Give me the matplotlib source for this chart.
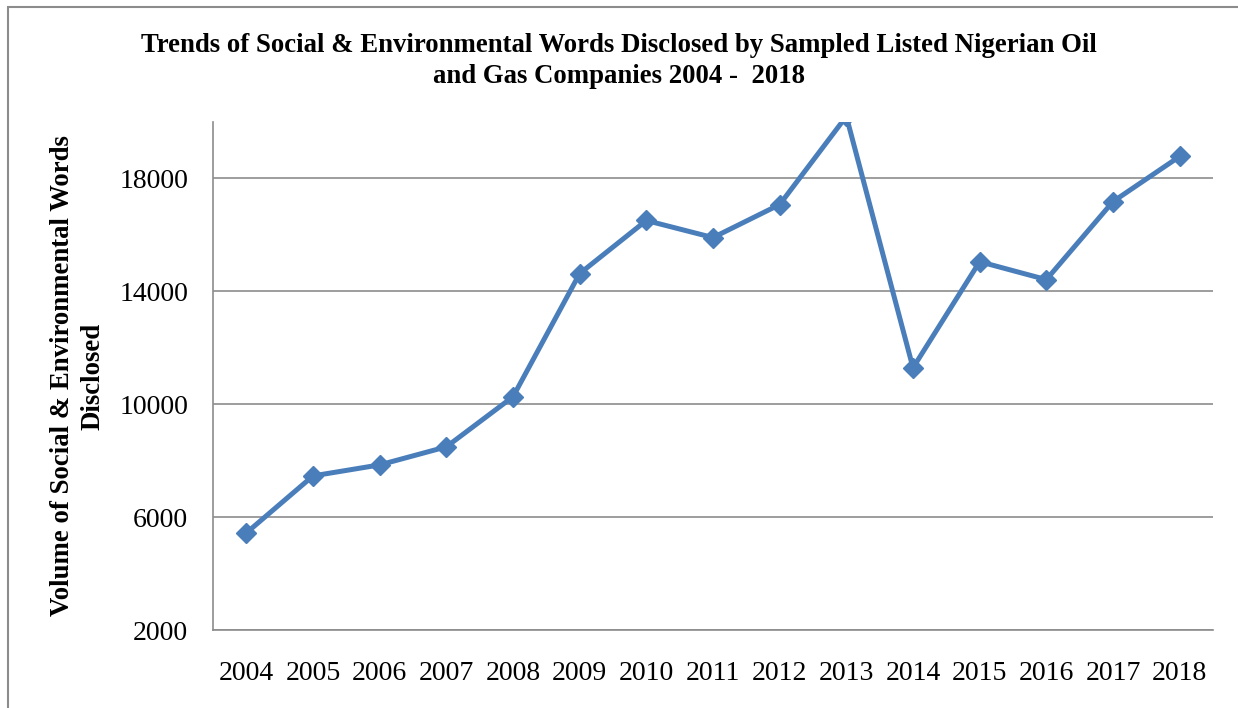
import matplotlib.pyplot as plt
from matplotlib.patches import Rectangle

# data
years = ['2004', '2005', '2006', '2007', '2008', '2009', '2010', '2011',
         '2012', '2013', '2014', '2015', '2016', '2017', '2018']
words = [5440, 7460, 7850, 8490, 10265, 14630, 16510, 15905,
         17075, 20200, 11290, 15050, 14415, 17180, 18780]
yticks = [2000, 6000, 10000, 14000, 18000]

plt.rcParams['font.family'] = ['Liberation Serif', 'DejaVu Serif']

fig = plt.figure(figsize=(12.38, 7.08), dpi=100)
ax = fig.add_axes([213/1238, 1 - 630/708, 1000/1238, 508/708])

# outer frame of the chart area
fig.patches.append(Rectangle((8/1238, -0.1), 1.2, 1 - 7/708 + 0.1,
                             transform=fig.transFigure, fill=False,
                             edgecolor='#8c8c8c', linewidth=1.5))

x = list(range(len(years)))
ax.plot(x, words, color='#4a7ebb', linewidth=3.6, marker='D',
        markersize=10.5, zorder=3, clip_on=True)

ax.set_xlim(-0.5, len(years) - 0.5)
ax.set_ylim(2000, 20000)
ax.set_yticks(yticks)
ax.set_xticks(x)
ax.set_xticklabels(years)
ax.tick_params(axis='both', length=0, labelsize=20)
ax.tick_params(axis='x', pad=22)
ax.tick_params(axis='y', pad=18)
ax.grid(axis='y', color='#8c8c8c', linewidth=1.2)
ax.set_axisbelow(True)
for s in ['top', 'right']:
    ax.spines[s].set_visible(False)
for s in ['left', 'bottom']:
    ax.spines[s].set_color('#8c8c8c')
    ax.spines[s].set_linewidth(1.2)

ax.set_ylabel('Volume of Social & Environmental Words\nDisclosed',
              fontsize=19.3, fontweight='bold', labelpad=10, linespacing=1.25)

fig.text(0.5, 1 - 61/708,
         'Trends of Social & Environmental Words Disclosed by Sampled Listed Nigerian Oil\n'
         'and Gas Companies 2004 -  2018',
         ha='center', va='center', fontsize=19.3, fontweight='bold', linespacing=1.3)

fig.savefig('out.png', dpi=100)
